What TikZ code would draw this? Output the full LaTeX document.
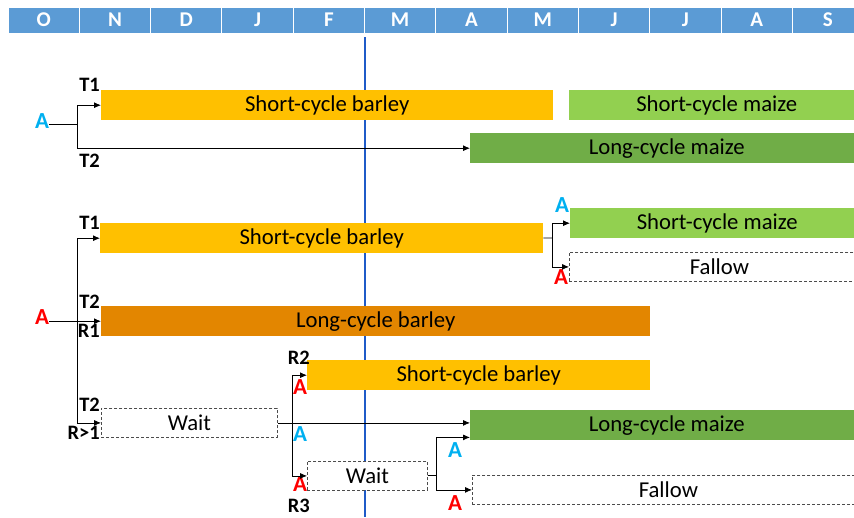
\documentclass[tikz,border=0pt]{standalone}
\usepackage{fontspec}
\setmainfont{Carlito}
\usetikzlibrary{arrows.meta}
\definecolor{hdrblue}{HTML}{5B9BD5}
\definecolor{barleyshort}{HTML}{FFC000}
\definecolor{barleylong}{HTML}{E38600}
\definecolor{maizeshort}{HTML}{92D050}
\definecolor{maizelong}{HTML}{70AD47}
\definecolor{ablue}{HTML}{00B0F0}
\definecolor{ared}{HTML}{FF0000}
\definecolor{nowblue}{HTML}{1F5BC8}
\tikzset{x=1pt, y=-1pt, % one unit is one pixel of the sketch, y runs downwards
>={Latex[length=7pt,width=6pt]}, % small filled arrow heads
link/.style={line width=0.8pt}, % the branching connectors
month/.style={fill=hdrblue, draw=white, line width=1pt, text=white, inner sep=0pt,
  minimum width=71.3pt, minimum height=26pt, font=\fontsize{21}{22}\selectfont\bfseries}, % header cells
crop/.style={anchor=north west, inner sep=0pt, minimum height=30pt,
  font=\fontsize{22.7}{24}\selectfont}, % one bar per crop
waitbox/.style={crop, fill=white, draw=black!70, line width=0.8pt, dash pattern=on 3pt off 2pt,
  minimum height=29pt}, % dashed boxes: wait / fallow
tag/.style={anchor=east, inner sep=0pt, font=\fontsize{20.5}{21}\selectfont\bfseries}, % T1, R2 ...
ablu/.style={inner sep=0pt, text=ablue, font=\fontsize{23}{24}\selectfont\bfseries},
ared/.style={inner sep=0pt, text=ared, font=\fontsize{23}{24}\selectfont\bfseries},
}

\begin{document}
\begin{tikzpicture}
    \useasboundingbox (0,0) rectangle (854,517);
    % months
    \foreach \m [count=\i] in {O,N,D,J,F,M,A,M,J,J,A,S}
        \node[month] (m\i) at (8+71.3*\i-35.65,20) {\m};
    \draw[nowblue, line width=1.2pt] (365,37) -- (365,517);

    % crops
    \node[crop, fill=barleyshort, minimum width=452pt] (sb1) at (101,90) {Short-cycle barley};
    \node[crop, fill=maizeshort, minimum width=295pt] (sm1) at (569,90) {Short-cycle maize};
    \node[crop, fill=maizelong, minimum width=393pt] (lm1) at (470,133) {Long-cycle maize};
    \node[crop, fill=barleyshort, minimum width=443pt] (sb2) at (100,223) {Short-cycle barley};
    \node[crop, fill=maizeshort, minimum width=294pt] (sm2) at (570,208) {Short-cycle maize};
    \node[waitbox, minimum width=300pt] (fa2) at (569,252) {Fallow};
    \node[crop, fill=barleylong, minimum width=549pt] (lb) at (101,306) {Long-cycle barley};
    \node[crop, fill=barleyshort, minimum width=343pt] (sb3) at (307,360) {Short-cycle barley};
    \node[waitbox, minimum width=176pt] (w1) at (101,408) {Wait};
    \node[crop, fill=maizelong, minimum width=393pt] (lm2) at (470,410) {Long-cycle maize};
    \node[waitbox, minimum width=120pt] (w2) at (307,461) {Wait};
    \node[waitbox, minimum width=392pt] (fa3) at (472,475) {Fallow};

    % labels
    \node[tag] (t1a) at (100,85) {T1};
    \node[tag] (t2a) at (100,161) {T2};
    \node[tag] (t1b) at (100,223) {T1};
    \node[tag] (t2b) at (100,302) {T2};
    \node[tag] (r1) at (100,331) {R1};
    \node[tag] (t2c) at (100,405) {T2};
    \node[tag] (rm1) at (100,433) {R>1};
    \node[tag] (r2) at (310,358) {R2};
    \node[tag] (r3) at (310,505.5) {R3};
    \node[ablu] (a1) at (42,121) {A};
    \node[ared] (a2) at (42,317) {A};
    \node[ablu] (a3) at (562,205) {A};
    \node[ared] (a4) at (561,277) {A};
    \node[ared] (a5) at (300,387) {A};
    \node[ablu] (a6) at (300,434) {A};
    \node[ared] (a7) at (300,484) {A};
    \node[ablu] (a8) at (455,450) {A};
    \node[ared] (a9) at (455,503) {A};

    % branching points
    \coordinate (s1) at (77,124);
    \coordinate (s2) at (77,321);
    \coordinate (s3) at (552,238);
    \coordinate (s4) at (292,422.5);
    \coordinate (s5) at (436,475.5);

    \draw[link] (a1.east |- s1) -- (s1);
    \draw[link, ->] (s1) |- (sb1);
    \draw[link, ->] (s1) |- (lm1);
    \draw[link, ->] (a2.east |- lb.west) -- (lb.west);
    \draw[link, ->] (s2) |- (sb2);
    \draw[link, ->] (s2) |- (w1);
    \draw[link] (sb2) -- (s3);
    \draw[link, ->] (s3) |- (sm2);
    \draw[link, ->] (s3) |- (fa2);
    \draw[link, ->] (w1) -- (w1 -| lm2.west);
    \draw[link, ->] (s4) |- (sb3);
    \draw[link, ->] (s4) |- (w2);
    \draw[link] (w2) -- (s5);
    \draw[link, ->] (s5) |- ([yshift=3pt]lm2.south west);
    \draw[link, ->] (s5) |- (fa3);
\end{tikzpicture}
\end{document}
